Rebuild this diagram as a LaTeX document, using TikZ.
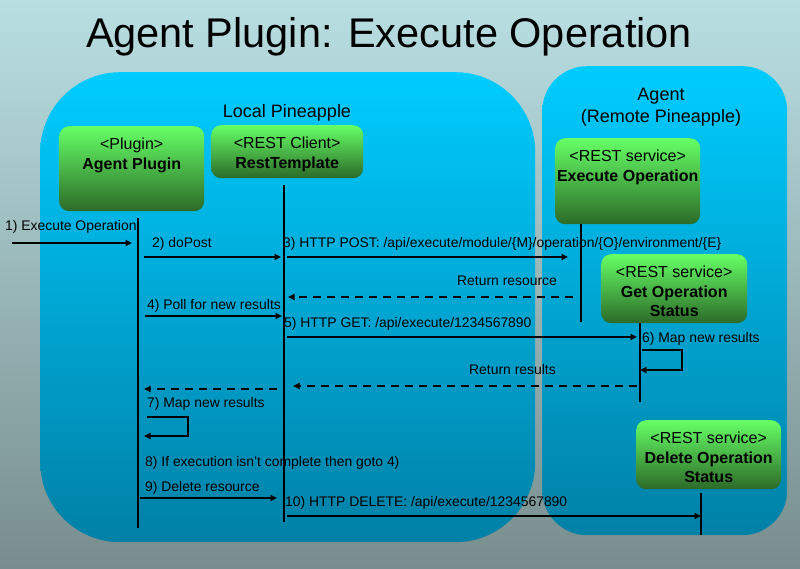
\documentclass[tikz,border=0pt]{standalone}
\usepackage{fontspec}
\setmainfont{Liberation Sans}
\usepackage{tikz}
\usetikzlibrary{positioning, arrows.meta}
\definecolor{bgtop}{RGB}{185, 223, 227}
\definecolor{bgbottom}{RGB}{120, 141, 141}
\definecolor{zonetop}{RGB}{0, 204, 255}
\definecolor{zonebottom}{RGB}{0, 128, 166}
\definecolor{boxtop}{RGB}{102, 255, 102}
\definecolor{boxbottom}{RGB}{44, 106, 40}

\begin{document}
\begin{tikzpicture}[
    x=1pt, y=-1pt,
    zone/.style={rectangle, anchor=north west, top color=zonetop, bottom color=zonebottom, inner sep=0pt},
    zonetitle/.style={align=center, font=\fontsize{18}{22}\selectfont},
    service/.style={rectangle, anchor=north west, rounded corners=10pt, top color=boxtop, bottom color=boxbottom, inner sep=0pt},
    boxtext/.style={anchor=north, yshift=-12pt, inner sep=0pt, align=center, font=\fontsize{16}{19.5}\selectfont},
    lifeline/.style={line width=1.2pt},
    msg/.style={-{Triangle[length=6.5pt, width=6pt]}, line width=2.2pt},
    reply/.style={msg, dash pattern=on 8pt off 6pt},
    lbl/.style={anchor=west, inner sep=0pt, text height=9.9pt, text depth=2.9pt, font=\fontsize{13.9}{16}\selectfont}
]
    % background
    \fill[top color=bgtop, bottom color=bgbottom] (0,0) rectangle (800,569);

    % the two pineapples
    \node[zone, rounded corners=80pt, minimum width=495pt, minimum height=470pt] (local) at (40,72) {};
    \node[zone, rounded corners=45pt, minimum width=245pt, minimum height=469pt] (agent) at (542,66) {};

    \node (title) at (389,37) {\fontsize{41.5}{48}\selectfont Agent Plugin: Execute Operation};
    \node[zonetitle] (localname) at (287,113) {Local Pineapple};
    \node[zonetitle] (agentname) at (661,107) {Agent\\(Remote Pineapple)};

    % participants
    \node[service, minimum width=145pt, minimum height=85pt, label={[boxtext]north:{<Plugin>\\\textbf{Agent Plugin}}}] (plugin) at (59,126) {};
    \node[service, minimum width=152pt, minimum height=53pt, label={[boxtext]north:{<REST Client>\\\textbf{RestTemplate}}}] (rest) at (211,125) {};
    \node[service, minimum width=145pt, minimum height=86pt, label={[boxtext]north:{<REST service>\\\textbf{Execute Operation}}}] (execop) at (555,138) {};
    \node[service, minimum width=146pt, minimum height=69pt, label={[boxtext]north:{<REST service>\\\textbf{Get Operation}\\\textbf{Status}}}] (getop) at (601,254) {};
    \node[service, minimum width=145pt, minimum height=69pt, label={[boxtext]north:{<REST service>\\\textbf{Delete Operation}\\\textbf{Status}}}] (delop) at (636,420) {};

    % lifelines
    \coordinate (pluginL) at (138,218);
    \coordinate (pluginE) at (138,528);
    \coordinate (restL) at (284,185);
    \coordinate (restE) at (284,522);
    \coordinate (execL) at (581,224);
    \coordinate (execE) at (581,322);
    \coordinate (getL) at (640,323);
    \coordinate (getE) at (640,402);
    \coordinate (delL) at (701,493);
    \coordinate (delE) at (701,535);
    \coordinate (caller) at (12,243);

    \draw[lifeline] (pluginL) -- (pluginE);
    \draw[lifeline] (restL) -- (restE);
    \draw[lifeline] (execL) -- (execE);
    \draw[lifeline] (getL) -- (getE);
    \draw[lifeline] (delL) -- (delE);

    % messages
    \draw[msg] (caller) -- ([xshift=-6pt]pluginL |- 0,243);
    \draw[msg] ([xshift=6pt]pluginL |- 0,257) -- ([xshift=-3pt]restL |- 0,257);
    \draw[msg] ([xshift=3pt]restL |- 0,257) -- ([xshift=-13pt]execL |- 0,257);
    \draw[reply] ([xshift=-8pt]execL |- 0,297) -- ([xshift=4pt]restL |- 0,297);
    \draw[msg] ([xshift=7pt]pluginL |- 0,316) -- ([xshift=-2pt]restL |- 0,316);
    \draw[msg] ([xshift=3pt]restL |- 0,337) -- ([xshift=-3pt]getL |- 0,337);
    \draw[msg] ([xshift=2pt]getL |- 0,350) -- ++(40,0) -- ++(0,20) -- (getL |- 0,370);
    \draw[reply] ([xshift=-3pt]getL |- 0,386) -- ([xshift=9pt]restL |- 0,386);
    \draw[reply] ([xshift=-7pt]restL |- 0,389) -- ([xshift=6pt]pluginL |- 0,389);
    \draw[msg] ([xshift=9pt]pluginL |- 0,417) -- ++(41,0) -- ++(0,19) -- ([xshift=6pt]pluginL |- 0,436);
    \draw[msg] ([xshift=2pt]pluginL |- 0,498) -- ([xshift=-7pt]restL |- 0,498);
    \draw[msg] ([xshift=3pt]restL |- 0,516) -- (delL |- 0,516);

    % message labels
    \node[lbl] (m1) at (5,227) {1) Execute Operation};
    \node[lbl] (m2) at (152,244) {2) doPost};
    \node[lbl] (m3) at (283,244) {3) HTTP POST: /api/execute/module/\{M\}/operation/\{O\}/environment/\{E\}};
    \node[lbl] (m3r) at (457,282) {Return resource};
    \node[lbl] (m4) at (147,306) {4) Poll for new results};
    \node[lbl] (m5) at (284,324) {5) HTTP GET: /api/execute/1234567890};
    \node[lbl] (m6) at (642,339) {6) Map new results};
    \node[lbl] (m5r) at (469,371) {Return results};
    \node[lbl] (m7) at (147,404) {7) Map new results};
    \node[lbl] (m8) at (145,463) {8) If execution isn't complete then goto 4)};
    \node[lbl] (m9) at (145,488) {9) Delete resource};
    \node[lbl] (m10) at (285,503) {10) HTTP DELETE: /api/execute/1234567890};
\end{tikzpicture}
\end{document}
